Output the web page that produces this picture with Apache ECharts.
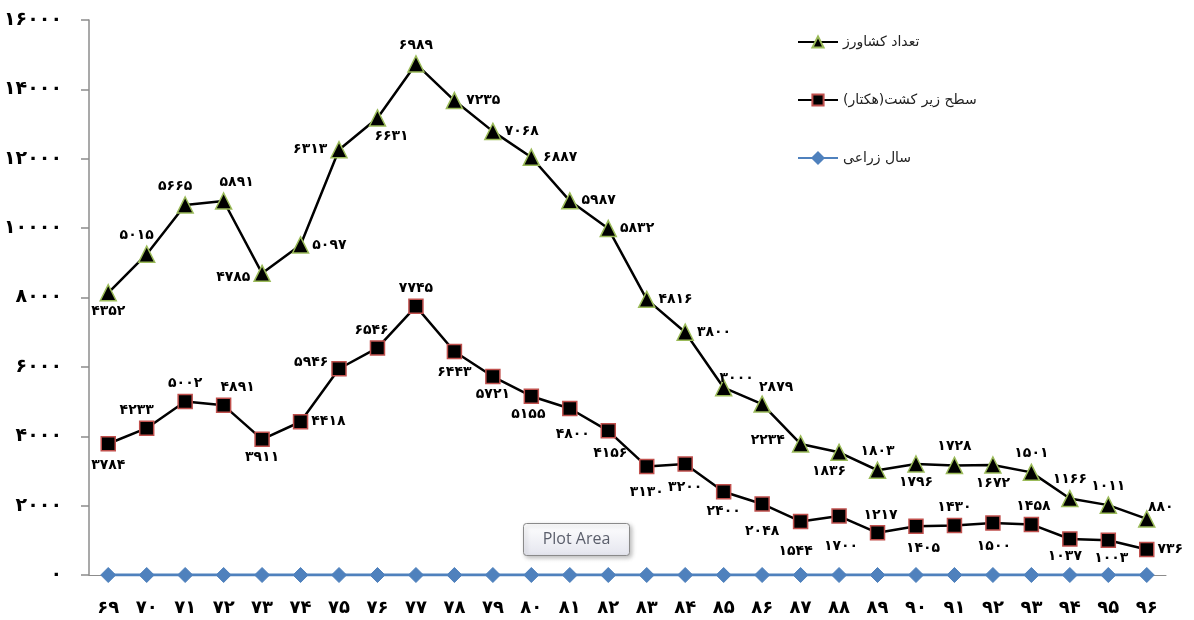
<!DOCTYPE html>
<html>
<head>
<meta charset="utf-8">
<script src="https://cdn.jsdelivr.net/npm/echarts@6/dist/echarts.min.js"></script>
<style>
  html, body { margin: 0; padding: 0; background: #fff; }
  #chart { width: 1194px; height: 620px; }
</style>
</head>
<body>
<div id="chart"></div>
<script>
// crop years (Persian calendar, 13xx)
const years = [69, 70, 71, 72, 73, 74, 75, 76, 77, 78, 79, 80, 81, 82, 83, 84, 85, 86, 87, 88, 89, 90, 91, 92, 93, 94, 95, 96]

// سطح زیر کشت (هکتار)
const area = [3784, 4233, 5002, 4891, 3911, 4418, 5946, 6546, 7745, 6443, 5721, 5155, 4800, 4156,
  3130, 3200, 2400, 2048, 1544, 1700, 1217, 1405, 1430, 1500, 1458, 1037, 1003, 736]

// تعداد کشاورز
const farmers = [4352, 5015, 5665, 5891, 4785, 5097, 6313, 6631, 6989, 7235, 7068, 6887, 5987, 5832,
  4816, 3800, 3000, 2879, 2234, 1836, 1803, 1796, 1728, 1672, 1501, 1166, 1011, 880]

// سال زراعی (plotted flat on zero)
const yearSeries = [0, 0, 0, 0, 0, 0, 0, 0, 0, 0, 0, 0, 0, 0, 0, 0, 0, 0, 0, 0, 0, 0, 0, 0, 0, 0, 0, 0]

const yTicks = [0, 2000, 4000, 6000, 8000, 10000, 12000, 14000, 16000]

// where each data label sits, per point
const farmerLabelPos = ['bottom', 'top', 'top', 'top', 'left', 'right', 'left', 'bottom', 'top', 'right',
  'right', 'right', 'right', 'right', 'right', 'right', 'top', 'top', 'left', 'bottom', 'top', 'bottom',
  'top', 'bottom', 'top', 'top', 'top', 'top']
const farmerLabelOff = [[0, 0], [-10, 0], [-10, 0], [13, 0], [0, 4], [0, 0], [0, 0], [14, 0], [0, 0], [0, 0],
  [0, 0], [0, 0], [0, 0], [0, 0], [0, 0], [0, 0], [13, 9], [14, 2], [-4, -4], [-10, 0], [0, 0], [0, 0],
  [0, 0], [0, 0], [0, 0], [0, 0], [0, 0], [14, 7]]
const areaLabelPos = ['bottom', 'top', 'top', 'top', 'bottom', 'right', 'left', 'top', 'top', 'bottom',
  'bottom', 'bottom', 'bottom', 'bottom', 'bottom', 'bottom', 'bottom', 'bottom', 'bottom', 'bottom',
  'top', 'bottom', 'top', 'bottom', 'top', 'bottom', 'bottom', 'right']
const areaLabelOff = [[0, 4], [-10, 0], [0, 0], [14, 0], [0, 0], [0, 0], [0, -6], [-6, 0], [0, 0], [0, 3],
  [0, 0], [-3, 0], [3, 8], [2, 5], [0, 8], [0, 6], [0, 2], [0, 10], [-5, 12], [2, 13], [3, 0], [7, 4],
  [0, 0], [1, 6], [2, 0], [-5, 0], [3, 0], [0, 0]]

const faDigits = '۰۱۲۳۴۵۶۷۸۹'
function toFa(v) {
  return String(v).replace(/\d/g, d => faDigits[d])
}

function withLabels(values, pos, off) {
  return values.map((v, i) => ({
    value: v,
    label: { position: pos[i], offset: off[i] }
  }))
}

const labelFont = {
  show: true,
  fontFamily: 'DejaVu Sans',
  fontWeight: 'bold',
  fontSize: 14,
  color: '#000',
  distance: 3,
  formatter: p => toFa(p.value)
}

const chart = echarts.init(document.getElementById('chart'), null, { renderer: 'canvas' })

chart.setOption({
  animation: false,
  backgroundColor: '#fff',
  grid: { left: 89, right: 28, top: 20, bottom: 45, containLabel: false },
  legend: {
    orient: 'vertical',
    left: 792,
    top: 30,
    itemGap: 44,
    itemWidth: 40,
    itemHeight: 14,
    textStyle: { fontFamily: 'DejaVu Sans', fontSize: 14, color: '#222' },
    data: ['تعداد کشاورز', 'سطح زیر کشت(هکتار)', 'سال زراعی']
  },
  xAxis: {
    type: 'category',
    data: years,
    boundaryGap: true,
    axisLine: { show: true, lineStyle: { color: '#8c8c8c' } },
    axisTick: { show: false },
    axisLabel: {
      margin: 24,
      fontFamily: 'DejaVu Sans',
      fontWeight: 'bold',
      fontSize: 18,
      color: '#000',
      formatter: v => toFa(v)
    },
    splitLine: { show: false }
  },
  yAxis: {
    type: 'value',
    min: yTicks[0],
    max: yTicks[yTicks.length - 1],
    interval: yTicks[1] - yTicks[0],
    axisLine: { show: true, lineStyle: { color: '#8c8c8c', width: 1.5 } },
    axisTick: { show: true, inside: false, length: 8, lineStyle: { color: '#8c8c8c', width: 1.5 } },
    axisLabel: {
      margin: 27,
      fontFamily: 'DejaVu Sans',
      fontWeight: 'bold',
      fontSize: 19,
      color: '#000',
      formatter: v => toFa(v)
    },
    splitLine: { show: false }
  },
  series: [
    {
      name: 'سال زراعی',
      type: 'line',
      stack: 'total',
      data: yearSeries,
      symbol: 'diamond',
      symbolSize: 15,
      z: 3,
      lineStyle: { color: '#4f81bd', width: 3 },
      itemStyle: { color: '#4f81bd', borderColor: '#4f81bd', borderWidth: 1 }
    },
    {
      name: 'سطح زیر کشت(هکتار)',
      type: 'line',
      stack: 'total',
      data: withLabels(area, areaLabelPos, areaLabelOff),
      symbol: 'rect',
      symbolSize: 14,
      z: 4,
      lineStyle: { color: '#000', width: 2.5 },
      itemStyle: { color: '#000', borderColor: '#c0504d', borderWidth: 1.5 },
      label: labelFont
    },
    {
      name: 'تعداد کشاورز',
      type: 'line',
      stack: 'total',
      data: withLabels(farmers, farmerLabelPos, farmerLabelOff),
      symbol: 'triangle',
      symbolSize: 16,
      z: 5,
      lineStyle: { color: '#000', width: 2.5 },
      itemStyle: { color: '#000', borderColor: '#9bbb59', borderWidth: 1.5 },
      label: labelFont
    }
  ],
  graphic: [
    {
      type: 'group',
      left: 523,
      top: 523,
      z: 100,
      children: [
        {
          type: 'rect',
          shape: { x: 0, y: 0, width: 106, height: 32, r: 3 },
          style: {
            fill: new echarts.graphic.LinearGradient(0, 0, 0, 1, [
              { offset: 0, color: '#ffffff' },
              { offset: 1, color: '#e4e5ee' }
            ]),
            stroke: '#8a8a8a',
            lineWidth: 1,
            shadowBlur: 4,
            shadowOffsetX: 2,
            shadowOffsetY: 2,
            shadowColor: 'rgba(0,0,0,0.25)'
          }
        },
        {
          type: 'text',
          x: 53,
          y: 16,
          style: {
            text: 'Plot Area',
            fontFamily: 'Open Sans',
            fontSize: 16,
            fill: '#5a5e6b',
            align: 'center',
            verticalAlign: 'middle'
          }
        }
      ]
    }
  ]
})
</script>
</body>
</html>
